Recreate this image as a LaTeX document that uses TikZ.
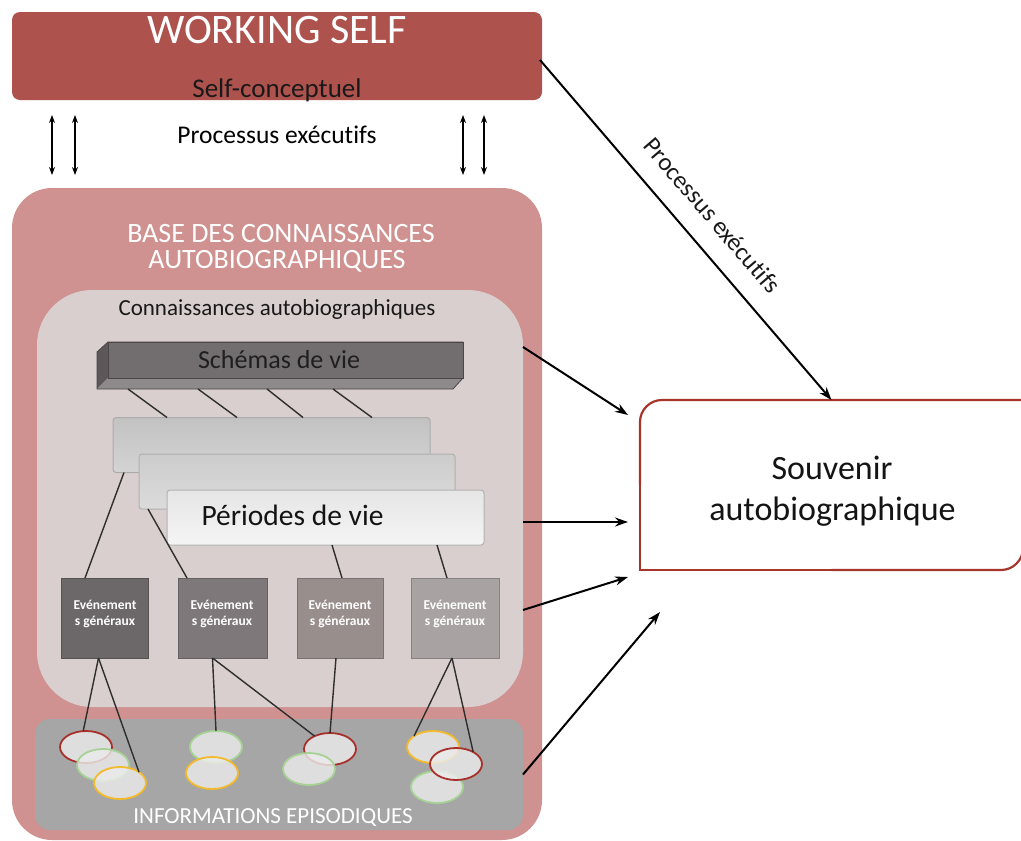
\documentclass[tikz,border=0pt]{standalone}
\usepackage{fontspec}
\setmainfont{Carlito}[Ligatures=NoCommon]
\usetikzlibrary{arrows.meta,shapes.geometric}
\definecolor{wsred}{HTML}{AE524E}
\definecolor{basepink}{HTML}{CF9290}
\definecolor{conngray}{HTML}{D9CFCE}
\definecolor{epigray}{HTML}{A6A6A6}
\definecolor{souvred}{HTML}{A8352B}
\definecolor{evA}{HTML}{6C6768}
\definecolor{evB}{HTML}{7E787A}
\definecolor{evC}{HTML}{988F8D}
\definecolor{evD}{HTML}{A8A3A2}
\definecolor{elred}{HTML}{A8302A}
\definecolor{elgreen}{HTML}{A6D395}
\definecolor{elyellow}{HTML}{F2BA2C}
\definecolor{elfill}{HTML}{EBEBEB}
\definecolor{schfront}{HTML}{726D6E}
\definecolor{schside}{HTML}{5C5859}
\definecolor{schbottom}{HTML}{8E8A8B}
\definecolor{linegray}{HTML}{2E2E2E}
\begin{document}
\begin{tikzpicture}[x=1pt,y=-1pt,
  every node/.style={outer sep=0pt, inner sep=0pt},
  panel/.style={rectangle, draw=none},
  evbox/.style={rectangle, fill=#1, draw=#1!80!black, line width=1pt, minimum height=80pt},
  evtext/.style={anchor=base, text=white, font=\bfseries\fontsize{13.5}{14}\selectfont},
  perbox/.style={rectangle, rounded corners=3pt, draw=#1, line width=1pt, minimum height=55pt, minimum width=317pt},
  episode/.style={ellipse, draw=#1, line width=1.8pt, fill=elfill, fill opacity=0.82, minimum width=52pt, minimum height=32pt},
  link/.style={draw=linegray, line width=1.4pt},
  arr/.style={draw=black, line width=2pt, -{Stealth[length=13pt,width=9pt]}},
  dblarr/.style={draw=black, line width=1.3pt, {Stealth[length=8pt,width=6pt]}-{Stealth[length=8pt,width=6pt]}}
]
\useasboundingbox (0,0) rectangle (1021,841);

% Working self
\node[panel, fill=wsred, rounded corners=8pt, minimum width=530pt, minimum height=88pt] (ws) at (277,56) {};
\node[anchor=base, text=white, font=\fontsize{42}{42}\selectfont] (wstitle) at (277,43) {WORKING SELF};
\node[anchor=base, text=black!90, font=\fontsize{27}{26}\selectfont] (wssub) at (277,97) {Self-conceptuel};

% Base des connaissances
\node[panel, fill=basepink, rounded corners=40pt, minimum width=530pt, minimum height=652pt] (base) at (277,514) {};
\node[anchor=base, text=white, font=\fontsize{28}{27}\selectfont] (basetitleA) at (281,242) {BASE DES CONNAISSANCES};
\node[anchor=base, text=white, font=\fontsize{28}{27}\selectfont] (basetitleB) at (277,268) {AUTOBIOGRAPHIQUES};

% Executive processes between WS and base
\node[anchor=base, font=\fontsize{25.5}{25}\selectfont] (procA) at (277,143) {Processus exécutifs};
\draw[dblarr] ([shift={(40,15)}]ws.south west) -- ([shift={(40,-13)}]base.north west);
\draw[dblarr] ([shift={(63,15)}]ws.south west) -- ([shift={(63,-13)}]base.north west);
\draw[dblarr] ([shift={(451,15)}]ws.south west) -- ([shift={(451,-13)}]base.north west);
\draw[dblarr] ([shift={(472,15)}]ws.south west) -- ([shift={(472,-13)}]base.north west);

% Connaissances autobiographiques
\node[panel, fill=conngray, rounded corners=55pt, minimum width=486pt, minimum height=417pt] (conn) at (280,498.5) {};
\node[anchor=base, text=black!90, font=\fontsize{23}{23}\selectfont] (conntitle) at (277,315) {Connaissances autobiographiques};

% Episodic information
\node[panel, fill=epigray, rounded corners=15pt, minimum width=488pt, minimum height=111pt] (epi) at (279,774.5) {};
\node[anchor=base, text=white, font=\fontsize{23}{23}\selectfont] (epititle) at (273,823) {INFORMATIONS EPISODIQUES};

% Schemas de vie (3D bar)
\fill[schside] (97,352) -- (108,342) -- (108,378) -- (97,389) -- cycle;
\fill[schbottom] (97,389) -- (108,378) -- (463,378) -- (453,389) -- cycle;
\draw[schside!80!black, line width=0.8pt] (97,352) -- (108,342) -- (463,342) -- (463,378) -- (453,389) -- (97,389) -- cycle;
\node[rectangle, fill=schfront, draw=schside!80!black, line width=0.8pt, minimum width=355pt, minimum height=36pt] (schema) at (285.5,360) {};
\node[anchor=base, text=black!88, font=\fontsize{26}{26}\selectfont] (schematext) at (279,368) {Schémas de vie};

% Periodes de vie
\node[perbox=black!33, top color=black!24, bottom color=black!17] (p1) at (271.5,445) {};
\node[perbox=black!31, top color=black!20, bottom color=black!14, minimum width=316pt] (p2) at (297,481.5) {};
\node[perbox=black!30, top color=black!10, bottom color=black!4] (p3) at (325.5,517.5) {};
\node[anchor=base, text=black!92, font=\fontsize{29.5}{29}\selectfont] (ptext) at (292.5,525) {Périodes de vie};

\foreach \a/\b in {20/54, 90/124, 159/190, 225/259}
  \draw[link] ([shift={(\a,11)}]schema.south west) -- ([shift={(\b,0)}]p1.north west);

% Evenements generaux
\node[evbox=evA, minimum width=87pt] (e1) at (104.5,618) {};
\node[evbox=evB, minimum width=89pt] (e2) at (222.5,618) {};
\node[evbox=evC, minimum width=86pt] (e3) at (340,618) {};
\node[evbox=evD, minimum width=88pt] (e4) at (455,618) {};
\node[evtext] (e1a) at (105,609) {Evénement};
\node[evtext] (e1b) at (105,625) {s généraux};
\node[evtext] (e2a) at (222,609) {Evénement};
\node[evtext] (e2b) at (222,625) {s généraux};
\node[evtext] (e3a) at (340,609) {Evénement};
\node[evtext] (e3b) at (340,625) {s généraux};
\node[evtext] (e4a) at (455,609) {Evénement};
\node[evtext] (e4b) at (455,625) {s généraux};

\draw[link] ([xshift=11pt]p1.south west) -- ([xshift=24pt]e1.north west);
\draw[link] ([xshift=9pt]p2.south west) -- ([xshift=9pt]e2.north west);
\draw[link] ([xshift=165pt]p3.south west) -- ([xshift=45pt]e3.north west);
\draw[link] ([xshift=270pt]p3.south west) -- ([xshift=36pt]e4.north west);

% Episodes
\node[episode=elred] (r1) at (86,747) {};
\node[episode=elgreen] (g1) at (103,765) {};
\node[episode=elyellow] (y1) at (120,783) {};
\node[episode=elgreen] (g2) at (216,747) {};
\node[episode=elyellow] (y2) at (212,773) {};
\node[episode=elred] (r3) at (330,749) {};
\node[episode=elgreen] (g3) at (309,769) {};
\node[episode=elyellow] (y4) at (433,747) {};
\node[episode=elgreen] (g4) at (437,787) {};
\node[episode=elred] (r4) at (456,764) {};

\draw[link] ([xshift=-6pt]e1.south) -- (r1.100);
\draw[link] ([xshift=-6pt]e1.south) -- (y1.30);
\draw[link] ([xshift=-10pt]e2.south) -- (g2.north);
\draw[link] ([xshift=-10pt]e2.south) -- (r3.140);
\draw[link] ([xshift=-4pt]e3.south) -- (r3.north);
\draw[link] ([xshift=-3pt]e4.south) -- (y4.150);
\draw[link] ([xshift=-3pt]e4.south) -- (r4.35);

% Souvenir autobiographique
\node[panel, fill=white, minimum width=383pt, minimum height=170pt] (souv) at (831.5,485) {};
\draw[souvred, line width=2.2pt, rounded corners=22pt] (souv.north east) -- (souv.north west) -- (souv.west);
\draw[souvred, line width=2.2pt, line cap=rect] (souv.west) -- (souv.south west) -- (souv.south);
\draw[souvred, line width=2.2pt, rounded corners=22pt] (souv.south) -- (souv.south east) -- (souv.north east);
\node[anchor=base, text=black!92, font=\fontsize{34}{34}\selectfont] (souvA) at (832,479) {Souvenir};
\node[anchor=base, text=black!92, font=\fontsize{34}{34}\selectfont] (souvB) at (832.5,520) {autobiographique};

% Arrows to souvenir
\draw[arr] ([shift={(-2,4)}]ws.east) -- node[pos=0.514, sloped, above=21pt, font=\fontsize{25}{25}\selectfont, text=black!90] (procB) {Processus exécutifs} (souv.north);
\draw[arr] ([shift={(0,-151.5)}]conn.east) -- ([shift={(-12,15)}]souv.north west);
\draw[arr] ([shift={(0,23.5)}]conn.east) -- ([shift={(-12,122)}]souv.north west);
\draw[arr] ([shift={(0,111.5)}]conn.east) -- ([shift={(-12,177)}]souv.north west);
\draw[arr] (epi.east) -- ([shift={(20,212)}]souv.north west);
\end{tikzpicture}
\end{document}
